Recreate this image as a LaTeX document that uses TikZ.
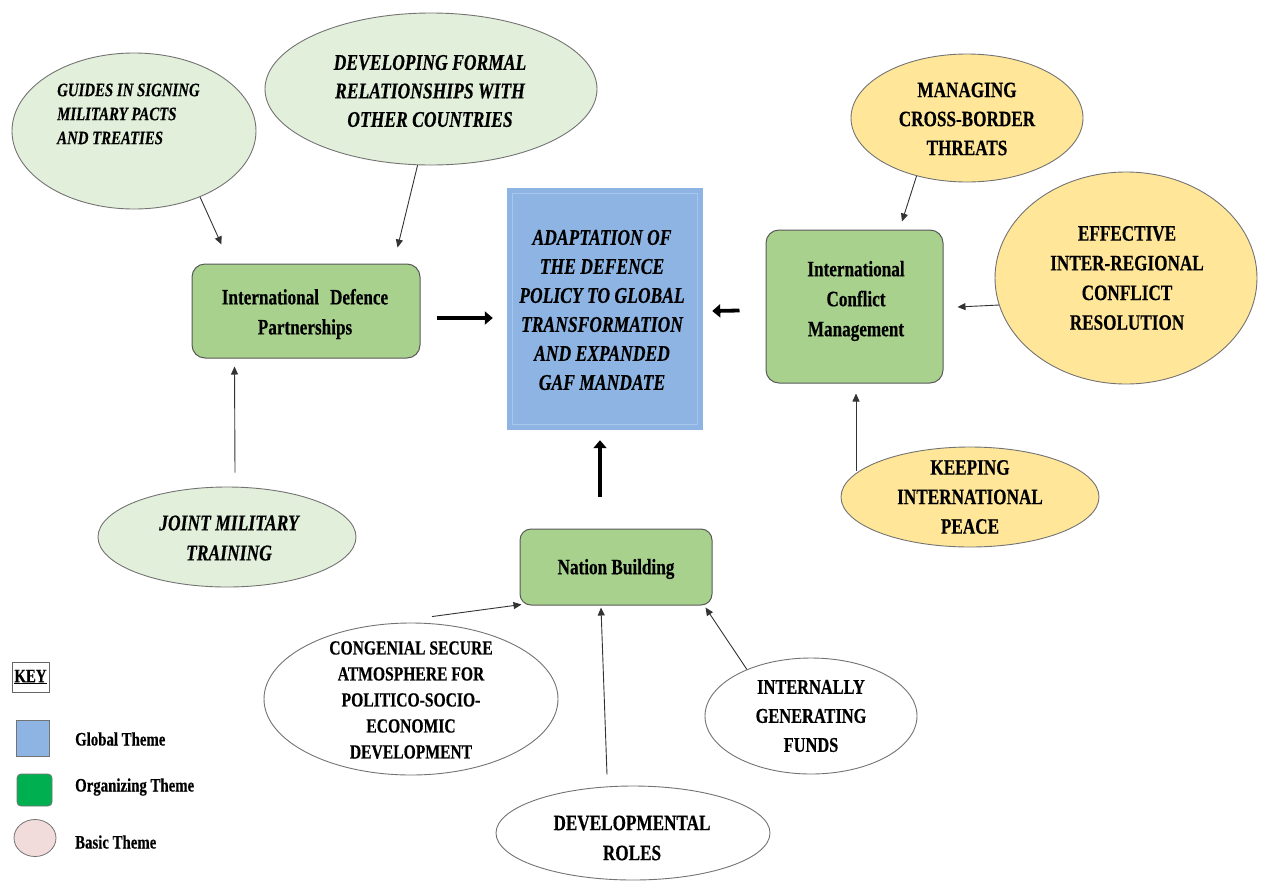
\documentclass[tikz,border=0pt]{standalone}
\usepackage{fontspec}
\setmainfont{Liberation Serif}[FakeStretch=0.78,
  BoldFeatures={FakeBold=0.4}, BoldItalicFeatures={FakeBold=0.4}]
\usetikzlibrary{shapes.geometric,arrows.meta,calc}

\definecolor{basicgreen}{RGB}{226,239,218}
\definecolor{orgfill}{RGB}{169,209,142}
\definecolor{globalblue}{RGB}{141,180,226}
\definecolor{globalrim}{RGB}{166,198,236}
\definecolor{basicyellow}{RGB}{255,230,153}
\definecolor{keygreen}{RGB}{0,176,80}
\definecolor{keypink}{RGB}{242,220,219}

\begin{document}
\begin{tikzpicture}[x=1pt,y=-1pt,
  basic/.style={ellipse, draw=black!55, line width=0.9pt, inner sep=0pt},
  org/.style={draw=black!65, line width=1pt, fill=orgfill, rounded corners=13pt, inner sep=0pt},
  itxt/.style 2 args={font=\bfseries\itshape\fontsize{#1}{#2}\selectfont, align=center, inner sep=0pt},
  btxt/.style 2 args={font=\bfseries\fontsize{#1}{#2}\selectfont, align=center, inner sep=0pt},
  link/.style={draw=black!80, line width=0.9pt, -{Triangle[length=8pt,width=7pt]}},
  bigarrow/.style={draw=black, line width=3.8pt, -{Triangle[length=8pt,width=13pt]}}
]
\useasboundingbox (0,0) rectangle (1261,884);

% ---------- global theme ----------
\node[fill=globalblue, minimum width=196pt, minimum height=242pt, inner sep=0pt] (global) at (605,309) {};
\draw[globalrim, line width=0.8pt] ($(global.north west)+(6,6)$) rectangle ($(global.south east)+(-6,-6)$);
\node[itxt={22.5}{29}] (tglobal) at (602,310) {ADAPTATION OF\\THE DEFENCE\\POLICY TO GLOBAL\\TRANSFORMATION\\AND EXPANDED\\GAF MANDATE};

% ---------- organizing themes ----------
\node[org, minimum width=228pt, minimum height=94pt] (idp) at (306,311) {};
\node[btxt={22}{30}] (tidp) at (305,314) {International\hspace{0.5em}Defence\\Partnerships};

\node[org, minimum width=177pt, minimum height=153pt] (icm) at (854.5,306.5) {};
\node[btxt={22}{30}] (ticm) at (856,301) {International\\Conflict\\Management};

\node[org, minimum width=192pt, minimum height=76pt, rounded corners=11pt] (nation) at (616,567) {};
\node[btxt={22}{28}] (tnation) at (616,569) {Nation Building};

% ---------- basic themes: defence partnerships ----------
\node[basic, fill=basicgreen, minimum width=244pt, minimum height=156pt] (guides) at (134,131) {};
\node[itxt={19}{24}, align=left, anchor=west] (tguides) at (57,114) {GUIDES IN SIGNING\\MILITARY PACTS\\AND TREATIES};

\node[basic, fill=basicgreen, minimum width=332pt, minimum height=152pt] (formal) at (431,89) {};
\node[itxt={22.5}{28.5}] (tformal) at (430,91) {DEVELOPING FORMAL\\RELATIONSHIPS WITH\\OTHER COUNTRIES};

\node[basic, fill=basicgreen, minimum width=258pt, minimum height=100pt] (joint) at (227,537) {};
\node[itxt={22.5}{30}] (tjoint) at (229,538) {JOINT MILITARY\\TRAINING};

% ---------- basic themes: conflict management ----------
\node[basic, fill=basicyellow, minimum width=232pt, minimum height=128pt] (border) at (967,118) {};
\node[btxt={22}{29}] (tborder) at (967,119) {MANAGING\\CROSS-BORDER\\THREATS};

\node[basic, fill=basicyellow, minimum width=262pt, minimum height=212pt] (regional) at (1126,278) {};
\node[btxt={22}{29.7}] (tregional) at (1127,278) {EFFECTIVE\\INTER-REGIONAL\\CONFLICT\\RESOLUTION};

\node[basic, fill=basicyellow, minimum width=258pt, minimum height=100pt] (peace) at (970,497) {};
\node[btxt={22}{29.5}] (tpeace) at (970,497) {KEEPING\\INTERNATIONAL\\PEACE};

% ---------- basic themes: nation building ----------
\node[basic, fill=white, minimum width=294pt, minimum height=152pt] (congenial) at (411,699) {};
\node[btxt={20}{26}] (tcongenial) at (411,700) {CONGENIAL SECURE\\ATMOSPHERE FOR\\POLITICO-SOCIO-\\ECONOMIC\\DEVELOPMENT};

\node[basic, fill=white, minimum width=274pt, minimum height=94pt] (roles) at (633,833) {};
\node[btxt={22}{30}] (troles) at (632,838) {DEVELOPMENTAL\\ROLES};

\node[basic, fill=white, minimum width=212pt, minimum height=116pt] (funds) at (811,716) {};
\node[btxt={21}{29}] (tfunds) at (811,716) {INTERNALLY\\GENERATING\\FUNDS};

% ---------- connectors ----------
\draw[link] (guides.-45) -- ($(idp.north west)+(30,-19)$);
\draw[link] (formal.-100) -- ($(idp.north east)+(-23,-16)$);
\draw[link] ($(joint.north)+(8,-14)$) -- ($(idp.south west)+(43,8)$);

\draw[link] (border.-131) -- ($(icm.north)+(47.5,-8)$);
\draw[link] (regional.-168) -- ($(icm.east)+(14,0.5)$);
\draw[link] ($(icm.south)+(1.5,87)$) -- ($(icm.south)+(1.5,10)$);

\draw[link] ($(congenial.north)+(21,-6)$) -- ($(nation.south west)+(2,-1)$);
\draw[link] ($(roles.north)+(-26,-11)$) -- ($(nation.south)+(-15,2)$);
\draw[link] (funds.144) -- ($(nation.south east)+(-7,2)$);

\draw[bigarrow] ($(idp.east)+(16,7)$) -- ($(global.west)+(-14,9)$);
\draw[bigarrow] ($(icm.west)+(-26,4)$) -- ($(global.east)+(9,2)$);
\draw[bigarrow] ($(nation.north)+(-16,-32)$) -- ($(global.south)+(-5,10)$);

% ---------- key ----------
\node[draw=black!60, line width=0.8pt, minimum width=37pt, minimum height=30pt, inner sep=0pt] (keybox) at (30.5,677) {};
\node[btxt={19}{22}] (keytext) at (30.5,677) {\underline{KEY}};

\node[fill=globalblue, draw=black!55, line width=0.8pt, minimum width=33pt, minimum height=36pt, inner sep=0pt] (kglobal) at (32.5,738) {};
\node[fill=keygreen, draw=black!55, line width=0.8pt, rounded corners=4pt, minimum width=35pt, minimum height=32pt, inner sep=0pt] (korg) at (34.5,790) {};
\node[ellipse, fill=keypink, draw=black!55, line width=0.8pt, minimum width=42pt, minimum height=37pt, inner sep=0pt] (kbasic) at (35,838) {};

\node[btxt={19}{22}, anchor=west] (lglobal) at (75,739) {Global Theme};
\node[btxt={19}{22}, anchor=west] (lorg) at (75,787) {Organizing Theme};
\node[btxt={19}{22}, anchor=west] (lbasic) at (75,842) {Basic Theme};
\end{tikzpicture}
\end{document}
